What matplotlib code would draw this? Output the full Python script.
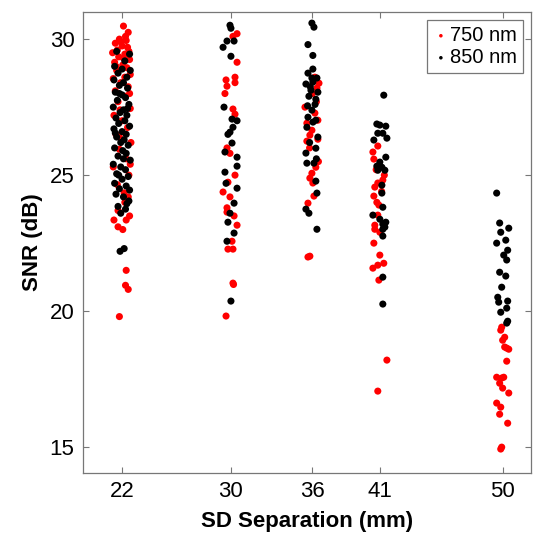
"""SNR vs source-detector separation, jittered strip plot (750 / 850 nm)."""
import matplotlib
matplotlib.use('Agg')
import matplotlib.pyplot as plt
from matplotlib import rcParams

rcParams['font.family'] = ['Liberation Sans', 'DejaVu Sans']

separations = [22, 30, 36, 41, 50]

# --- 750 nm (red): jitter offset in mm, SNR in dB ---
jit_750_22 = [0.1, 0.45, -0.2, 0.3, -0.5, 0.0, 0.4, -0.35, -0.7, 0.2, -0.25, 0.55, -0.55, 0.05,
              0.35, -0.4, 0.6, -0.65, -0.1, 0.45, -0.5, 0.25, -0.3, 0.6, -0.6, 0.0, 0.4, -0.45,
              0.65, -0.2, 0.3, -0.65, 0.5, -0.35, 0.15, 0.45, 0.2, -0.3, 0.55, -0.6, -0.3, 0.05,
              0.3, 0.3, 0.25, 0.45, -0.2, 0.25, -0.1, 0.5, 0.1, -0.45, 0.2, 0.55, -0.2, 0.6, -0.15]
snr_750_22 = [30.48, 30.25, 30.0, 29.95, 29.85, 29.75, 29.7, 29.6, 29.5, 29.45, 29.35, 29.25, 29.15,
              29.05, 28.95, 28.85, 28.7, 28.55, 28.4, 28.25, 28.1, 27.9, 27.7, 27.45, 27.2, 27.0,
              26.75, 26.5, 26.2, 25.95, 25.6, 25.3, 25.0, 24.65, 24.35, 24.2, 24.0, 23.7, 23.5,
              23.35, 23.1, 23.0, 23.35, 21.5, 20.95, 20.8, 19.8, 30.1, 29.9, 29.55, 29.3, 29.0,
              28.6, 28.0, 26.4, 25.4, 27.4]

jit_750_30 = [0.46, 0.16, 0.46, -0.35, 0.31, -0.28, 0.31, -0.43, 0.16, 0.31, -0.28, -0.06, 0.31,
              -0.21, -0.57, -0.06, -0.28, -0.28, 0.24, 0.46, 0.09, -0.21, 0.16, 0.16, 0.2, -0.35]
snr_750_30 = [30.2, 30.1, 29.15, 28.5, 28.6, 28.27, 28.4, 28.0, 27.43, 27.24, 26.0, 25.8, 25.0,
              24.74, 24.38, 24.2, 23.8, 23.64, 23.5, 23.16, 22.57, 22.28, 22.28, 21.03, 20.98, 19.82]

jit_750_36 = [0.19, 0.49, 0.34, -0.54, 0.19, 0.41, -0.4, -0.03, -0.18, -0.4, 0.41, 0.26, -0.03,
              -0.18, 0.04, 0.12, -0.32, -0.18, -0.32, 0.0, 0.3, -0.2, 0.45]
snr_750_36 = [28.6, 28.38, 28.2, 27.5, 27.28, 27.02, 26.91, 26.65, 26.47, 26.25, 26.32, 25.29,
              25.07, 24.89, 24.71, 24.23, 23.97, 22.02, 21.99, 28.0, 27.7, 26.0, 25.5]

jit_750_41 = [-0.18, -0.54, -0.47, 0.19, -0.18, -0.4, -0.47, -0.25, -0.1, -0.18, -0.4, -0.4, -0.03,
              -0.47, -0.03, -0.54, -0.18, 0.26, -0.1, 0.49, -0.18, 0.3, -0.3, 0.1]
snr_750_41 = [26.07, 25.85, 25.59, 24.82, 24.71, 24.56, 24.23, 24.0, 23.9, 23.53, 23.16, 23.01,
              22.9, 22.5, 22.06, 21.58, 21.69, 21.76, 21.14, 18.2, 17.06, 25.0, 25.2, 24.4]

jit_750_50 = [-0.06, -0.13, 0.16, 0.01, 0.31, 0.46, 0.16, 0.31, -0.43, -0.06, 0.09, -0.21, 0.01,
              0.46, -0.43, -0.13, -0.21, 0.38, -0.06, -0.13]
snr_750_50 = [19.41, 19.3, 19.04, 18.93, 18.64, 18.6, 18.68, 18.16, 17.57, 17.54, 17.57, 17.35,
              17.17, 16.99, 16.62, 16.47, 16.21, 15.88, 15.0, 14.93]

# --- 850 nm (black) ---
jit_850_22 = [-0.4, 0.55, 0.2, -0.55, 0.0, -0.3, 0.35, -0.6, 0.1, -0.2, 0.4, -0.5, 0.0, 0.25,
              -0.35, 0.5, -0.65, 0.1, -0.15, 0.35, -0.45, 0.2, -0.25, 0.55, -0.6, 0.0, 0.3, -0.4,
              0.15, -0.1, 0.45, -0.55, 0.05, 0.3, -0.3, 0.6, -0.65, -0.1, 0.25, -0.4, 0.45, 0.0,
              -0.55, 0.3, -0.2, 0.55, -0.45, 0.1, -0.3, 0.25, -0.1, 0.35, -0.15, 0.15, 0.6, -0.2,
              0.4, -0.5, 0.1, -0.25, 0.5]
snr_850_22 = [29.55, 29.45, 29.2, 29.0, 28.9, 28.75, 28.6, 28.5, 28.4, 28.3, 28.2, 28.05, 27.95,
              27.85, 27.75, 27.6, 27.5, 27.4, 27.3, 27.2, 27.1, 27.0, 26.9, 26.8, 26.7, 26.6, 26.5,
              26.4, 26.3, 26.2, 26.1, 26.0, 25.9, 25.8, 25.7, 25.55, 25.4, 25.3, 25.2, 25.05,
              24.95, 24.85, 24.7, 24.6, 24.5, 24.45, 24.3, 24.2, 23.85, 23.75, 23.6, 23.95, 22.2,
              22.3, 28.85, 28.0, 27.45, 26.55, 25.6, 25.0, 24.05]

jit_850_30 = [-0.06, 0.01, -0.28, 0.24, -0.57, 0.01, -0.5, 0.09, 0.46, 0.16, -0.06, -0.21, 0.09,
              -0.43, 0.46, 0.46, -0.43, -0.35, 0.46, 0.24, -0.06, -0.21, 0.24, -0.28, 0.01]
snr_850_30 = [30.51, 30.4, 29.93, 29.93, 29.7, 29.37, 27.5, 27.06, 27.0, 26.76, 26.58, 26.5, 26.18,
              25.85, 25.66, 25.33, 25.11, 24.7, 24.52, 23.97, 23.6, 23.27, 22.87, 22.57, 20.37]

jit_850_36 = [-0.03, 0.12, -0.32, 0.04, 0.04, -0.32, 0.34, -0.03, -0.47, 0.04, -0.1, 0.41, -0.25,
              0.26, -0.03, -0.32, 0.26, -0.4, 0.41, 0.26, -0.47, -0.4, 0.12, 0.26, 0.34, -0.47,
              -0.25, 0.34, -0.15, 0.2, -0.35, 0.05, -0.2, 0.3]
snr_850_36 = [30.59, 30.44, 29.8, 29.4, 28.9, 28.75, 28.57, 28.57, 28.35, 28.42, 28.12, 28.05,
              27.9, 27.79, 27.39, 27.13, 27.02, 26.76, 26.4, 25.99, 25.81, 25.44, 25.44, 24.78,
              24.34, 23.75, 23.6, 23.01, 28.25, 27.6, 27.55, 26.95, 26.2, 25.6]

jit_850_41 = [0.26, -0.25, -0.03, 0.41, -0.18, 0.19, -0.47, 0.49, 0.41, -0.03, -0.25, 0.12, -0.18,
              0.34, 0.12, 0.12, 0.19, -0.54, -0.03, 0.41, 0.19, 0.19, 0.34, 0.19, 0.19, 0.19]
snr_850_41 = [27.94, 26.88, 26.84, 26.8, 26.54, 26.54, 26.29, 26.36, 25.66, 25.48, 25.33, 25.29,
              25.18, 25.18, 24.63, 24.34, 23.82, 23.53, 23.38, 23.27, 23.2, 23.01, 23.09, 22.76,
              21.25, 20.26]

jit_850_50 = [-0.43, -0.21, 0.46, -0.13, -0.43, 0.24, 0.38, 0.09, 0.31, -0.21, 0.24, -0.06, -0.35,
              0.38, -0.28, 0.31, -0.13, 0.38, 0.31]
snr_850_50 = [24.34, 23.24, 23.05, 22.9, 22.5, 22.61, 22.24, 22.06, 21.88, 21.43, 21.29, 20.88,
              20.51, 20.37, 20.33, 20.11, 19.96, 19.63, 19.56]

jit_750 = [jit_750_22, jit_750_30, jit_750_36, jit_750_41, jit_750_50]
snr_750 = [snr_750_22, snr_750_30, snr_750_36, snr_750_41, snr_750_50]
jit_850 = [jit_850_22, jit_850_30, jit_850_36, jit_850_41, jit_850_50]
snr_850 = [snr_850_22, snr_850_30, snr_850_36, snr_850_41, snr_850_50]

fig = plt.figure(figsize=(5.35, 5.33), dpi=100)
ax = fig.add_axes([0.1546, 0.1126, 0.838, 0.865])

for i, sep in enumerate(separations):
    ax.scatter([sep + j for j in jit_750[i]], snr_750[i], s=26, color='#ff0000',
               edgecolors='none', label='750 nm' if i == 0 else None, zorder=2)
for i, sep in enumerate(separations):
    ax.scatter([sep + j for j in jit_850[i]], snr_850[i], s=26, color='black',
               edgecolors='none', label='850 nm' if i == 0 else None, zorder=3)

ax.set_xlim(19.1, 52.1)
ax.set_ylim(14.05, 31.0)
ax.set_xticks(separations)
ax.set_yticks([15, 20, 25, 30])
ax.tick_params(direction='in', top=True, right=True, length=4, width=0.8,
               color='#777777', labelsize=16, pad=6)
for sp in ax.spines.values():
    sp.set_color('#777777')
    sp.set_linewidth(0.9)

ax.set_xlabel('SD Separation (mm)', fontsize=16, fontweight='bold', labelpad=6)
ax.set_ylabel('SNR (dB)', fontsize=16, fontweight='bold', labelpad=5)

leg = ax.legend(loc='upper right', fontsize=14.5, markerscale=0.5, handletextpad=0.05,
                borderpad=0.3, labelspacing=0.15, handlelength=0.8, borderaxespad=0.4,
                fancybox=False, framealpha=1)
leg.get_frame().set_edgecolor('#777777')
leg.get_frame().set_linewidth(0.9)

plt.savefig('out.png', dpi=100)
plt.close()
